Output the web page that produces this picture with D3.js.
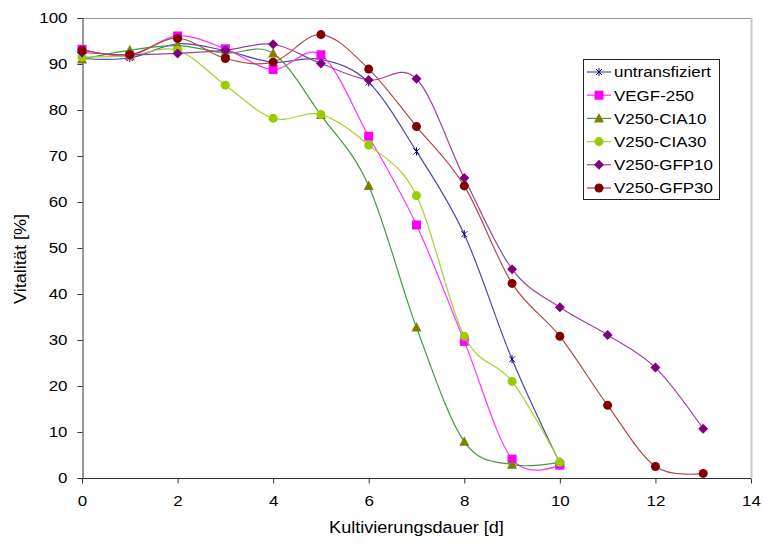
<!DOCTYPE html>
<html><head><meta charset="utf-8">
<script src="https://cdn.jsdelivr.net/npm/d3@7"></script>
<style>body{margin:0;background:#fff}svg{display:block;font-family:"Liberation Sans",Arial,sans-serif}
.st{transform-box:fill-box;transform:scaleX(1.13)}
.sl{transform-origin:left center}.sr{transform-origin:right center}.sc{transform-origin:center center}
</style>
</head><body><svg id="c" width="764" height="544"></svg>
<script>
const xTicks = [0,2,4,6,8,10,12,14];
const yTicks = [0,10,20,30,40,50,60,70,80,90,100];
const seriesNames = ["untransfiziert","VEGF-250","V250-CIA10","V250-CIA30","V250-GFP10","V250-GFP30"];
const untransfiziert = [91.2,91.3,94.4,92.9,90.4,91,86,71,53,25.8,3.2];
const vegf250 = [93.2,91.8,96.1,93.3,88.8,92,74.3,55,29.7,4.1,2.8];
const cia10 = [91,93,94,92.4,92.3,78.9,63.5,32.7,7.9,2.9,3.4];
const cia30 = [91.5,91.8,93,85.4,78.2,79,72.4,61.4,30.8,21,3.4];
const gfp10 = [92.5,92,92.3,93,94.3,90.1,86.5,86.8,65.2,45.4,37.1,31.1,24,10.7];
const gfp30 = [93,92,95.6,91.2,90.4,96.4,88.9,76.4,63.5,42.3,30.8,15.8,2.5,1];
const allValues = [untransfiziert,vegf250,cia10,cia30,gfp10,gfp30];
const lineColors = ["#4a4aaa","#ff33ff","#3f9a3f","#a8d030","#a040a0","#b04848"];
const markColors = ["#000080","#ff00ff","#808000","#99cc00","#800080","#800000"];
const markTypes = ["star","square","triangle","circle","diamond","circle"];

const svg = d3.select("#c");
const x = d3.scaleLinear().domain([0,14]).range([82,751]);
const y = d3.scaleLinear().domain([0,100]).range([478,18]);

svg.append("line").attr("x1",82).attr("x2",751).attr("y1",18.5).attr("y2",18.5).attr("stroke","#999").attr("stroke-width",1);
svg.append("line").attr("x1",751.5).attr("x2",751.5).attr("y1",18).attr("y2",478).attr("stroke","#c8c8c8").attr("stroke-width",2);

const font = 15;
const yAxis = svg.append("g").attr("transform","translate(82.5,0)")
  .call(d3.axisLeft(y).tickValues(yTicks).tickSize(5).tickPadding(10).tickFormat(d3.format("d")));
const xAxis = svg.append("g").attr("transform","translate(0,478.5)")
  .call(d3.axisBottom(x).tickValues(xTicks).tickSize(5).tickPadding(12).tickFormat(d3.format("d")));
[yAxis,xAxis].forEach(g=>{
  g.selectAll("path,line").attr("stroke","#333");
  g.selectAll("text").attr("fill","#000").style("font-size",font+"px").style("font-family","Liberation Sans, Arial, sans-serif");
});
yAxis.selectAll("text").attr("class","st sr");
xAxis.selectAll("text").attr("class","st sc");
xAxis.select(".domain").attr("d","M82,0H751");

svg.append("text").attr("class","st sc").attr("x",416.5).attr("y",533).attr("text-anchor","middle")
  .style("font-size","16px").text("Kultivierungsdauer [d]");
svg.append("g").attr("transform","translate(26,259) rotate(-90)").append("text").attr("class","st sc").attr("text-anchor","middle")
  .style("font-size","16px").text("Vitalität [%]");

const line = d3.line().x((d,i)=>x(i)).y(d=>y(d)).curve(d3.curveCardinal.tension(0));

function marker(g, type, color, cx, cy){
  if(type==="star"){
    g.append("path").attr("d",`M${cx-3},${cy-3}L${cx+3},${cy+3}M${cx-3},${cy+3}L${cx+3},${cy-3}M${cx},${cy-4}L${cx},${cy+4}`)
      .attr("stroke",color).attr("stroke-width",1).attr("fill","none");
  } else if(type==="square"){
    g.append("rect").attr("x",cx-4.5).attr("y",cy-4.5).attr("width",9).attr("height",9).attr("fill",color);
  } else if(type==="triangle"){
    g.append("path").attr("d",`M${cx},${cy-5.5}L${cx+5},${cy+4}L${cx-5},${cy+4}Z`).attr("fill",color);
  } else if(type==="circle"){
    g.append("circle").attr("cx",cx).attr("cy",cy).attr("r",4.5).attr("fill",color);
  } else if(type==="diamond"){
    g.append("path").attr("d",`M${cx},${cy-5}L${cx+5},${cy}L${cx},${cy+5}L${cx-5},${cy}Z`).attr("fill",color);
  }
}

allValues.forEach((vals,s)=>{
  const g = svg.append("g");
  g.append("path").datum(vals).attr("d",line).attr("fill","none").attr("stroke",lineColors[s]).attr("stroke-width",1.2);
  vals.forEach((v,i)=>marker(g, markTypes[s], markColors[s], x(i), y(v)));
});

const lg = svg.append("g");
lg.append("rect").attr("x",583.5).attr("y",59.5).attr("width",136).attr("height",140).attr("fill","#fff").attr("stroke","#222").attr("stroke-width",1);
seriesNames.forEach((n,s)=>{
  const cy = 72 + s*23.2;
  lg.append("line").attr("x1",587).attr("x2",611).attr("y1",cy).attr("y2",cy).attr("stroke",lineColors[s]).attr("stroke-width",1.2);
  marker(lg, markTypes[s], markColors[s], 599, cy);
  lg.append("text").attr("class","st sl").attr("x",614).attr("y",cy+5.5).style("font-size","15px").text(n);
});
</script></body></html>
